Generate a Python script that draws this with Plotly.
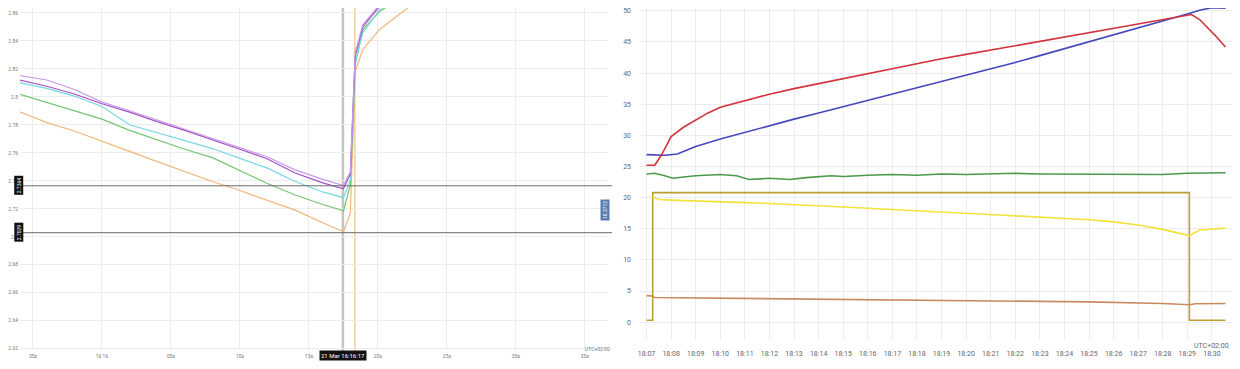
import pandas as pd
import plotly.graph_objects as go

# ---------------- Left panel data (seconds relative to 16:16:00) ----------------
left_t = [-6, -4, -2, 0, 2, 4, 6, 8, 10, 12, 14, 16, 17.5, 18.0, 18.35, 18.9, 20.1, 21.5, 23.0]
left_violet = [2.8152, 2.8120, 2.8052, 2.7962, 2.7900, 2.7834, 2.7768, 2.7702, 2.7638, 2.7570, 2.7478, 2.7410, 2.7366,
               2.7464, 2.8314, 2.8514, 2.8657, 2.8740, 2.8800]
left_purple = [2.8121, 2.8075, 2.8020, 2.7950, 2.7890, 2.7822, 2.7760, 2.7695, 2.7625, 2.7555, 2.7455, 2.7385, 2.7343,
               2.7450, 2.8290, 2.8500, 2.8643, 2.8730, 2.8790]
left_cyan = [2.8100, 2.8060, 2.8005, 2.7930, 2.7800, 2.7745, 2.7690, 2.7630, 2.7560, 2.7490, 2.7395, 2.7320, 2.7279,
             2.7407, 2.8250, 2.8457, 2.8621, 2.8710, 2.8780]
left_green = [2.8019, 2.7960, 2.7900, 2.7840, 2.7760, 2.7690, 2.7625, 2.7565, 2.7470, 2.7380, 2.7298, 2.7230, 2.7186,
              2.7371, 2.8230, 2.8480, 2.8607, 2.8700, 2.8770]
left_orange = [2.7895, 2.7815, 2.7755, 2.7685, 2.7610, 2.7537, 2.7465, 2.7395, 2.7330, 2.7260, 2.7190, 2.7100, 2.7036,
               2.7171, 2.8180, 2.8336, 2.8479, 2.8586, 2.8695]
left_tick_s = [-5, 0, 5, 10, 15, 20, 25, 30, 35]
left_tick_text = ["55s", "16:16", "05s", "10s", "15s", "20s", "25s", "30s", "35s"]
left_hlines = [2.7364, 2.7029]
left_hline_labels = ["2.7364", "2.7029"]
left_vlines_s = [17.46, 18.33]
left_y_ticks = [2.62, 2.64, 2.66, 2.68, 2.70, 2.72, 2.74, 2.76, 2.78, 2.80, 2.82, 2.84, 2.86]

# ---------------- Right panel data ----------------
red_t = ["18:07:00", "18:07:20", "18:07:36", "18:08:00", "18:08:30", "18:09:00", "18:09:30", "18:10:00", "18:11:00",
         "18:12:00", "18:13:00", "18:14:00", "18:15:00", "18:16:00", "18:17:00", "18:18:00", "18:19:00", "18:20:00",
         "18:21:00", "18:22:00", "18:23:00", "18:24:00", "18:25:00", "18:26:00", "18:27:00", "18:28:00", "18:28:40",
         "18:29:10", "18:29:30", "18:29:50", "18:30:10", "18:30:33"]
red_v = [25.2, 25.2, 26.8, 29.8, 31.3, 32.5, 33.6, 34.5, 35.6, 36.6, 37.5, 38.3, 39.2, 40.0, 40.8, 41.6, 42.3, 43.0,
         43.7, 44.4, 45.1, 45.8, 46.5, 47.2, 47.8, 48.5, 49.0, 49.4, 48.6, 47.3, 45.9, 44.2]

blue_t = ["18:07:00", "18:07:45", "18:08:15", "18:09:00", "18:10:00", "18:11:00", "18:12:00", "18:13:00", "18:14:00",
          "18:15:00", "18:16:00", "18:17:00", "18:18:00", "18:19:00", "18:20:00", "18:21:00", "18:22:00", "18:23:00",
          "18:24:00", "18:25:00", "18:26:00", "18:27:00", "18:28:00", "18:29:00", "18:29:30", "18:30:00", "18:30:33"]
blue_v = [26.9, 26.8, 27.0, 28.2, 29.4, 30.5, 31.6, 32.6, 33.6, 34.6, 35.6, 36.6, 37.6, 38.6, 39.6, 40.6, 41.7, 42.8,
          43.9, 45.0, 46.1, 47.2, 48.3, 49.5, 50.1, 50.5, 50.4]

green_t = ["18:07:00", "18:07:20", "18:07:40", "18:08:05", "18:08:30", "18:09:00", "18:10:00", "18:10:40", "18:11:10",
           "18:12:00", "18:12:50", "18:13:30", "18:14:30", "18:15:00", "18:16:00", "18:17:00", "18:18:00", "18:19:00",
           "18:20:00", "18:21:00", "18:22:00", "18:23:00", "18:24:00", "18:25:00", "18:26:00", "18:27:00", "18:28:00",
           "18:29:00", "18:30:00", "18:30:33"]
green_v = [23.8, 23.9, 23.6, 23.1, 23.3, 23.5, 23.7, 23.5, 22.9, 23.1, 22.9, 23.2, 23.5, 23.4, 23.6, 23.7, 23.6, 23.8,
           23.7, 23.8, 23.9, 23.8, 23.8, 23.7, 23.8, 23.8, 23.7, 23.9, 24.0, 24.0]

olive_t = ["18:07:00", "18:07:15", "18:07:15", "18:29:05", "18:29:05", "18:30:33"]
olive_v = [0.3, 0.3, 20.8, 20.8, 0.3, 0.3]

yellow_t = ["18:07:15", "18:07:30", "18:08:00", "18:09:00", "18:10:00", "18:11:00", "18:12:00", "18:13:00", "18:14:00",
            "18:15:00", "18:16:00", "18:17:00", "18:18:00", "18:19:00", "18:20:00", "18:21:00", "18:22:00", "18:23:00",
            "18:24:00", "18:25:00", "18:26:00", "18:27:00", "18:28:00", "18:29:05", "18:29:30", "18:30:00", "18:30:33"]
yellow_v = [20.1, 19.7, 19.6, 19.5, 19.35, 19.2, 19.05, 18.9, 18.7, 18.5, 18.3, 18.1, 17.9, 17.7, 17.5, 17.3, 17.1,
            16.9, 16.7, 16.45, 16.1, 15.6, 14.9, 13.9, 14.8, 15.0, 15.1]

brown_t = ["18:07:00", "18:07:15", "18:07:20", "18:10:00", "18:15:00", "18:20:00", "18:25:00", "18:28:00", "18:29:05",
           "18:29:20", "18:30:33"]
brown_v = [4.25, 4.2, 3.95, 3.85, 3.65, 3.5, 3.25, 3.0, 2.8, 2.95, 3.0]

DAY = "2024-03-21 "
OFF = 8                           # page body margin of the html page
W, H = 1240 - 2 * OFF, 369 - OFF  # visible figure area inside the window


def lt(s):
    return pd.Timestamp(DAY + "16:16:00") + pd.to_timedelta(s, unit="s")


def rt(lst):
    return pd.to_datetime([DAY + s for s in lst])


def px(x):
    return (x - OFF) / W


def py(y):
    return 1 - (y - OFF) / H


fig = go.Figure()

left_series = [
    (left_orange, "#f2b679"),
    (left_green, "#72c472"),
    (left_cyan, "#79d6e2"),
    (left_purple, "#a44ec4"),
    (left_violet, "#c79ae6"),
]
lx = [lt(s) for s in left_t]
for vals, col in left_series:
    fig.add_trace(go.Scatter(x=lx, y=vals, mode="lines", line=dict(color=col, width=1.2),
                             xaxis="x", yaxis="y", showlegend=False, hoverinfo="skip"))

right_series = [
    (brown_t, brown_v, "#c98a5f"),
    (olive_t, olive_v, "#bb9f30"),
    (yellow_t, yellow_v, "#f2e23c"),
    (green_t, green_v, "#4c9a4c"),
    (blue_t, blue_v, "#4646bd"),
    (red_t, red_v, "#d0343f"),
]
for tt, vv, col in right_series:
    fig.add_trace(go.Scatter(x=rt(tt), y=vv, mode="lines", line=dict(color=col, width=1.6),
                             xaxis="x2", yaxis="y2", showlegend=False, hoverinfo="skip"))

tick_font = dict(family="Roboto", size=5, color="#777")
grid = "#ececec"

fig.update_layout(
    width=W, height=H,
    margin=dict(l=0, r=0, t=0, b=0, autoexpand=False),
    paper_bgcolor="white", plot_bgcolor="white",
    showlegend=False,
    xaxis=dict(domain=[px(20), px(608)], range=[lt(-5.94), lt(36.67)],
               tickvals=[lt(s) for s in left_tick_s], ticktext=left_tick_text,
               showgrid=True, gridcolor=grid, gridwidth=1, zeroline=False, showline=False,
               ticks="", tickfont=tick_font, anchor="y", automargin=False, ticklabelstandoff=2,
               ticklabeloverflow="allow"),
    yaxis=dict(domain=[py(350), 1], range=[2.6191, 2.8634], tickvals=left_y_ticks,
               ticktext=[f"{v:g}" for v in left_y_ticks],
               showgrid=True, gridcolor=grid, gridwidth=1, zeroline=False, showline=False,
               ticks="", tickfont=tick_font, anchor="x", ticklabelstandoff=1, automargin=False,
               ticklabeloverflow="allow"),
    xaxis2=dict(domain=[px(640), 1], range=[pd.Timestamp(DAY + "18:06:44"), pd.Timestamp(DAY + "18:30:49")],
                tickformat="%H:%M", dtick=60000, tick0=pd.Timestamp(DAY + "18:07:00"),
                showgrid=True, gridcolor=grid, gridwidth=1, zeroline=False, showline=False,
                ticks="", tickfont=dict(family="Roboto", size=7, color="#666"), anchor="y2",
                automargin=False, ticklabelstandoff=8, ticklabeloverflow="allow"),
    yaxis2=dict(domain=[py(340), 1], range=[-2.87, 50.45], dtick=5, tick0=0,
                showgrid=True, gridcolor=grid, gridwidth=1, zeroline=False, showline=False,
                ticks="", tickfont=dict(family="Roboto", size=7, color="#666"), anchor="x2",
                ticklabelstandoff=8, automargin=False, ticklabeloverflow="allow"),
)

shapes = []
# vertical crosshair / marker lines (left panel)
shapes.append(dict(type="line", xref="x", yref="paper", x0=lt(left_vlines_s[0]), x1=lt(left_vlines_s[0]),
                   y0=py(352), y1=1, line=dict(color="#c4c4c4", width=2.5), layer="below"))
shapes.append(dict(type="line", xref="x", yref="paper", x0=lt(left_vlines_s[1]), x1=lt(left_vlines_s[1]),
                   y0=py(352), y1=1, line=dict(color="#e6b365", width=1), layer="below"))
for v in left_hlines:
    shapes.append(dict(type="line", xref="paper", yref="y", x0=px(20), x1=px(612), y0=v, y1=v,
                       line=dict(color="#6a6a6a", width=1)))
fig.update_layout(shapes=shapes)

ann = []
for v, lab in zip(left_hlines, left_hline_labels):
    ann.append(dict(xref="paper", yref="y", x=px(18.5), y=v, text=lab, showarrow=False, textangle=-90,
                    xanchor="center", yanchor="middle",
                    font=dict(family="Roboto", size=5, color="white"), bgcolor="#111", borderpad=1))
ann.append(dict(xref="x", yref="paper", x=lt(left_vlines_s[0]), y=py(355), text="21 Mar 16:16:17",
                xanchor="center", yanchor="middle",
                showarrow=False, font=dict(family="Roboto", size=6, color="white"), bgcolor="#111", borderpad=1))
ann.append(dict(xref="paper", yref="paper", x=px(597), y=py(349), text="UTC+02:00", showarrow=False,
                xanchor="center", yanchor="middle", font=dict(family="Roboto", size=5, color="#777")))
ann.append(dict(xref="paper", yref="paper", x=px(1231), y=py(346), text="UTC+02:00", showarrow=False,
                xanchor="right", yanchor="middle", font=dict(family="Roboto", size=7, color="#666")))
ann.append(dict(xref="paper", yref="paper", x=px(605), y=py(210), text="18.3712", showarrow=False, textangle=-90,
                xanchor="center", yanchor="middle",
                font=dict(family="Roboto", size=5, color="white"), bgcolor="#5a7bb0", borderpad=1))
fig.update_layout(annotations=ann)

fig.write_html("out.html")
